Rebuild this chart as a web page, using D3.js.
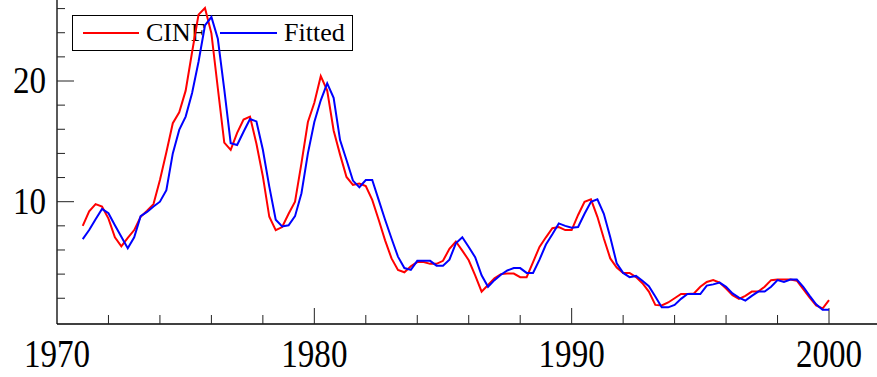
<!DOCTYPE html>
<html>
<head>
<meta charset="utf-8">
<script src="https://cdn.jsdelivr.net/npm/d3@7"></script>
<style>
  html, body { margin: 0; padding: 0; background: #fff; }
  svg { display: block; }
  text { font-family: "Liberation Serif", "Times New Roman", serif; fill: #000; }
</style>
</head>
<body>
<svg id="chart" width="877" height="377"></svg>
<script>
// Quarterly series, first observation 1971 Q1
const startYear = 1971;
const cinf = [8.0,9.2,9.8,9.6,8.6,7.05,6.3,7.0,7.65,8.75,
  9.25,9.8,11.8,14.1,16.5,17.4,19.2,22.4,25.5,26.05,
  23.95,19.4,14.9,14.3,15.7,16.8,17.05,14.8,12.1,8.75,
  7.65,7.9,9.0,10.0,13.2,16.6,18.2,20.4,19.2,15.9,
  13.9,12.05,11.4,11.5,11.3,10.15,8.5,6.8,5.3,4.35,
  4.15,4.65,5.0,5.0,4.85,4.85,5.1,6.1,6.7,5.95,
  5.15,3.9,2.55,3.1,3.65,4.0,4.05,4.05,3.75,3.75,
  5.0,6.25,7.05,7.8,7.9,7.65,7.65,8.9,10.0,10.2,
  8.75,6.95,5.3,4.55,4.1,4.1,3.75,3.25,2.55,1.45,
  1.4,1.65,2.0,2.35,2.35,2.4,2.95,3.35,3.5,3.3,
  2.8,2.25,1.95,2.2,2.55,2.55,2.95,3.5,3.55,3.55,
  3.55,3.45,2.75,2.05,1.4,1.15,1.85];
const fitted = [6.9,7.65,8.55,9.4,9.05,8.05,7.1,6.15,7.05,8.8,
  9.15,9.6,10.0,10.95,14.0,15.95,17.05,19.0,21.6,24.6,
  25.3,23.5,19.3,14.85,14.7,15.8,16.85,16.65,14.3,11.25,
  8.5,7.95,8.05,8.8,10.7,14.0,16.6,18.4,19.8,18.6,
  15.1,13.45,11.75,11.2,11.8,11.8,10.15,8.5,6.95,5.45,
  4.5,4.35,5.1,5.1,5.1,4.7,4.7,5.2,6.55,7.05,
  6.25,5.4,3.9,2.95,3.5,3.95,4.3,4.5,4.5,4.1,
  4.1,5.2,6.45,7.3,8.2,8.0,7.85,7.9,9.0,10.0,
  10.2,9.0,7.05,4.9,4.1,3.75,3.85,3.45,3.0,2.15,
  1.25,1.25,1.45,1.95,2.35,2.35,2.35,3.05,3.15,3.3,
  2.95,2.4,2.05,1.8,2.2,2.55,2.55,2.95,3.5,3.35,
  3.55,3.55,2.95,2.2,1.5,1.05,1.05];
const seriesNames = ["CINF", "Fitted"];
const seriesColors = ["#ff0000", "#0000ff"];
const xTickLabels = [1970, 1980, 1990, 2000];
const yTickLabels = [10, 20];

const svg = d3.select("#chart");

const x = d3.scaleLinear().domain([1970, 2000]).range([57, 829]);
const y = d3.scaleLinear().domain([0, 10]).range([322.4, 201.7]);
const yMax = y.invert(0);
const xMax = x.invert(877);
const bottom = 324;

// axis lines
svg.append("line").attr("x1", 57).attr("x2", 57).attr("y1", 0).attr("y2", bottom)
  .attr("stroke", "#000").attr("stroke-width", 1.3);
svg.append("line").attr("x1", 57).attr("x2", 877).attr("y1", bottom).attr("y2", bottom)
  .attr("stroke", "#000").attr("stroke-width", 1.3);

// x ticks every 2 years, longer on decades
const xTicks = d3.range(1972, Math.floor(xMax) + 1, 2);
svg.append("g").selectAll("line").data(xTicks).join("line")
  .attr("x1", d => x(d)).attr("x2", d => x(d))
  .attr("y1", bottom)
  .attr("y2", d => bottom - (xTickLabels.includes(d) ? 16 : 9))
  .attr("stroke", "#222").attr("stroke-width", 1);

// y ticks every 2 units, longer on labelled values
const yTicks = d3.range(2, Math.floor(yMax) + 1, 2);
svg.append("g").selectAll("line").data(yTicks).join("line")
  .attr("x1", 57)
  .attr("x2", d => 57 + (yTickLabels.includes(d) ? 17 : 8))
  .attr("y1", d => y(d)).attr("y2", d => y(d))
  .attr("stroke", "#222").attr("stroke-width", 1);

// tick labels
svg.append("g").selectAll("text").data(xTickLabels).join("text")
  .attr("text-anchor", "middle")
  .attr("font-size", 36)
  .attr("transform", d => `translate(${x(d)},367) scale(0.92,1.12)`)
  .text(d => d);

svg.append("g").selectAll("text").data(yTickLabels).join("text")
  .attr("text-anchor", "end")
  .attr("font-size", 36)
  .attr("transform", d => `translate(46,${y(d) + 12}) scale(0.92,1.08)`)
  .text(d => d);

// legend
const legend = svg.append("g");
legend.append("rect").attr("x", 72.5).attr("y", 15.5).attr("width", 280).attr("height", 35)
  .attr("fill", "none").attr("stroke", "#000").attr("stroke-width", 1);
const legendItems = [
  { name: seriesNames[0], color: seriesColors[0], x0: 83, x1: 139, tx: 146 },
  { name: seriesNames[1], color: seriesColors[1], x0: 220, x1: 277, tx: 284 }
];
legendItems.forEach(it => {
  legend.append("line").attr("x1", it.x0).attr("x2", it.x1).attr("y1", 33).attr("y2", 33)
    .attr("stroke", it.color).attr("stroke-width", 2);
  legend.append("text").attr("x", it.tx).attr("y", 41).attr("font-size", 26).text(it.name);
});

// series lines
const line = d3.line()
  .x((d, i) => x(startYear + i / 4))
  .y(d => y(d));

[cinf, fitted].forEach((s, k) => {
  svg.append("path").datum(s)
    .attr("fill", "none")
    .attr("stroke", seriesColors[k])
    .attr("stroke-width", 2)
    .attr("stroke-linejoin", "miter")
    .attr("d", line);
});
</script>
</body>
</html>
